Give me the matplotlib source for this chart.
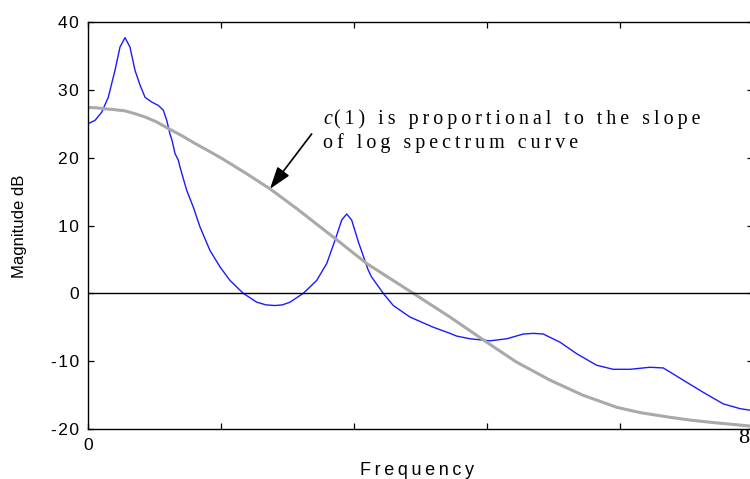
import matplotlib
matplotlib.use("Agg")
import matplotlib.pyplot as plt

SANS = ["Liberation Sans", "DejaVu Sans"]
SERIF = ["Liberation Serif", "DejaVu Serif"]
plt.rcParams["font.family"] = SANS

# log magnitude spectrum (Hz, dB)
freq_spec = [0, 84, 165, 244, 325, 385, 445, 505, 565, 626, 686, 766, 846,
             906, 947, 986, 1010, 1047, 1087, 1107, 1187, 1267, 1347, 1468,
             1588, 1708, 1868, 2029, 2140, 2250, 2340, 2430, 2590, 2751,
             2872, 2971, 3052, 3112, 3172, 3252, 3372, 3412, 3552, 3673,
             3874, 4154, 4355, 4435, 4595, 4836, 5037, 5237, 5357, 5477,
             5678, 5879, 6119, 6319, 6520, 6761, 6921, 7161, 7402, 7643,
             7844, 8000]
mag_spec = [25.0, 25.5, 26.7, 28.9, 32.9, 36.3, 37.7, 36.3, 32.9, 30.7, 28.9,
            28.2, 27.7, 27.0, 25.5, 23.5, 22.6, 20.6, 19.6, 18.6, 15.2, 12.7,
            9.8, 6.3, 3.9, 1.9, 0.0, -1.3, -1.7, -1.8, -1.7, -1.3, 0.0, 1.9,
            4.4, 7.8, 10.8, 11.7, 10.8, 7.6, 3.4, 2.4, 0.0, -1.8,
            -3.5, -5.0, -5.9, -6.3, -6.7, -7.0, -6.7, -6.0, -5.9, -6.0,
            -7.2, -8.9, -10.6, -11.2, -11.2, -10.9, -11.0, -12.8, -14.6, -16.3,
            -17.0, -17.3]

# smoothed envelope from the first cepstral coefficients
freq_env = [0, 100, 205, 300, 445, 560, 686, 820, 966, 1120, 1287, 1450,
            1608, 1900, 2190, 2510, 2751, 2992, 3352, 3913, 4355, 4796,
            5150, 5558, 5950, 6360, 6650, 6961, 7250, 7563, 8000]
mag_env = [27.4, 27.35, 27.2, 27.1, 26.9, 26.5, 26.0, 25.3, 24.3, 23.3, 22.1,
           21.0, 19.9, 17.7, 15.4, 12.5, 10.2, 7.9, 4.4, 0.0, -3.5, -7.2,
           -10.1, -12.8, -15.0, -16.8, -17.6, -18.2, -18.7, -19.1, -19.6]

x_ticks = [0, 1600, 3200, 4800, 6400, 8000]
y_ticks = [-20, -10, 0, 10, 20, 30, 40]


def spaced(s, gap="\u2009"):
    return gap.join(s)


fig = plt.figure(figsize=(7.5, 4.79), dpi=100)
ax = fig.add_axes([88 / 750, 1 - 429 / 479, 665 / 750, 407 / 479])

ax.plot(freq_spec, mag_spec, color="#1a1aff", lw=1.0)
ax.plot(freq_env, mag_env, color="#a9a9a9", lw=2.2)
ax.axhline(0, color="black", lw=1.0)

ax.set_xlim(0, 8000)
ax.set_ylim(-20, 40)
ax.set_xticks(x_ticks)
ax.set_xticklabels(["0"] + [""] * (len(x_ticks) - 1))
ax.set_yticks(y_ticks)
ax.set_yticklabels([spaced(str(v), "\u200a") for v in y_ticks])
ax.tick_params(direction="in", length=4.3, width=0.9, top=True, right=True,
               labelsize=12.5, pad=6.5, colors="black")
for spine in ax.spines.values():
    spine.set_linewidth(1.0)
    spine.set_color("black")

fig.text(20 / 750, 1 - 226.7 / 479, "Magnitude dB", rotation=90,
         ha="center", va="center", fontsize=12)
fig.text(417 / 750, 1 - 475 / 479, spaced("Frequency"), ha="center",
         va="baseline", fontsize=13)
# right end label of the frequency axis
fig.text(749.5 / 750, 1 - 443 / 479, "8", ha="right", va="baseline",
         fontsize=16, family=SERIF)

# annotation
fig.text(323 / 750, 1 - 124 / 479, "c", ha="left", va="baseline",
         fontsize=14.4, style="italic", family=SERIF)
fig.text(334 / 750, 1 - 124 / 479, spaced("(1) is proportional to the slope"),
         ha="left", va="baseline", fontsize=14.4, family=SERIF)
fig.text(323 / 750, 1 - 148 / 479, spaced("of log spectrum curve"),
         ha="left", va="baseline", fontsize=14.4, family=SERIF)
ax.annotate("", xy=(2189, 15.4), xytext=(2691, 23.5),
            arrowprops=dict(arrowstyle="-|>,head_length=0.9,head_width=0.3",
                            color="black", lw=1.2, mutation_scale=15,
                            shrinkA=0, shrinkB=0))

fig.savefig("out.png", dpi=100)
